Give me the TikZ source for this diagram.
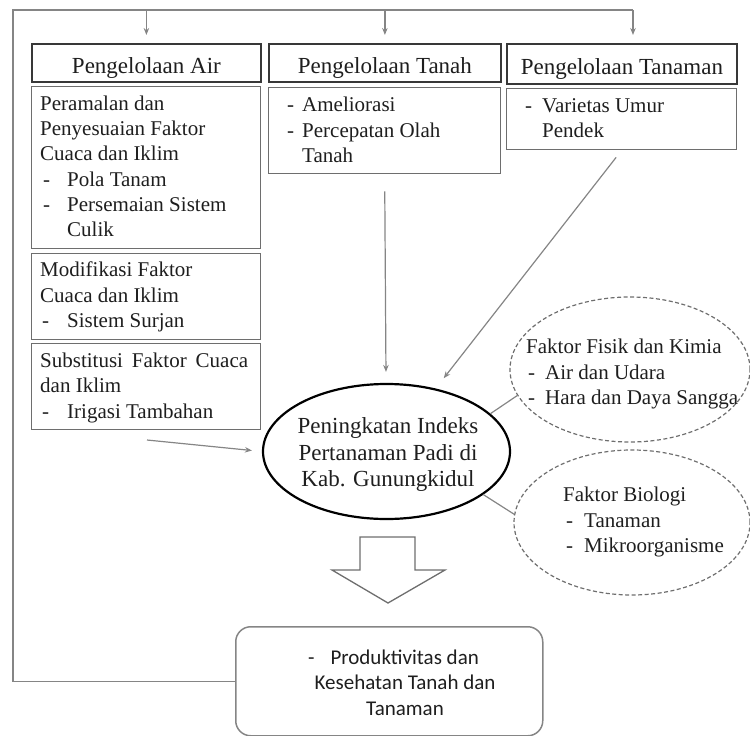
\documentclass[tikz,border=0pt]{standalone}
\usepackage{fontspec}
\setmainfont{Liberation Serif}
\newfontfamily\calfont{Carlito}
\usetikzlibrary{arrows.meta,shapes.geometric}
\definecolor{txtc}{HTML}{1E1E1E}
\definecolor{hdrc}{HTML}{383838}
\definecolor{boxc}{HTML}{6E6E6E}
\definecolor{linec}{HTML}{858585}
\newcommand{\fsA}{\rule{0pt}{16pt}}
\newcommand{\fsB}{\rule{0pt}{17pt}}
\newcommand{\dashitem}[2]{\makebox[#1][l]{-}#2}
\tikzset{
  hdr/.style={draw=hdrc, line width=1.8pt, rectangle, inner sep=0pt, anchor=north west,
    font=\fontsize{23}{26}\selectfont, text=txtc, text height=21pt, text depth=0pt},
  subbox/.style={draw=boxc, line width=1.3pt, rectangle, inner sep=0pt, anchor=north west},
  bodytxt/.style={font=\fontsize{21}{25.3}\selectfont, text=txtc, align=left, inner sep=0pt, anchor=north west},
  elltxt/.style={font=\fontsize{21}{25.5}\selectfont, text=txtc, align=left, inner sep=0pt, anchor=north west},
  maintxt/.style={font=\fontsize{23}{26.7}\selectfont, text=txtc, align=center, inner sep=0pt, anchor=north},
  bottxt/.style={font=\calfont\fontsize{21}{25.5}\selectfont, text=txtc, align=center, inner sep=0pt, anchor=north},
  frame/.style={draw=linec, line width=1.5pt},
  arr/.style={draw=linec, line width=1.2pt, -{Stealth[length=7pt,width=5.5pt]}},
  conn/.style={draw=linec, line width=1.2pt},
  dell/.style={draw=boxc, line width=1.2pt, dash pattern=on 4pt off 2.5pt, ellipse, inner sep=0pt},
  mainell/.style={draw=black, line width=2.2pt, ellipse, inner sep=0pt},
  blk/.style={draw=boxc, line width=1.3pt, fill=white},
  botbox/.style={draw=linec, line width=1.5pt, rectangle, rounded corners=15pt, inner sep=0pt, anchor=north west}
}
\begin{document}
\begin{tikzpicture}[x=1pt,y=-1pt]
\useasboundingbox (0,0) rectangle (750,736);

% header boxes
\node[hdr, minimum width=229pt, minimum height=38pt] (hA) at (31,43) {Pengelolaan Air};
\node[hdr, minimum width=232pt, minimum height=38pt] (hB) at (268,43) {Pengelolaan Tanah};
\node[hdr, minimum width=230pt, minimum height=40pt] (hC) at (506,43) {Pengelolaan Tanaman};

% sub boxes
\node[subbox, minimum width=229pt, minimum height=162pt] (sA1) at (31,86) {};
\node[subbox, minimum width=229pt, minimum height=86pt] (sA2) at (31,253) {};
\node[subbox, minimum width=229pt, minimum height=86pt] (sA3) at (31,343) {};
\node[subbox, minimum width=232pt, minimum height=86pt] (sB) at (268,87) {};
\node[subbox, minimum width=230pt, minimum height=61pt] (sC) at (506,88) {};

% sub box texts
\node[bodytxt] (tA1) at (40,94) {\fsA Peramalan dan\\Penyesuaian Faktor\\Cuaca dan Iklim\\
  \hspace*{3pt}\dashitem{24pt}{Pola Tanam}\\\hspace*{3pt}\dashitem{24pt}{Persemaian Sistem}\\\hspace*{27pt}Culik};
\node[bodytxt] (tA2) at (40,260.7) {\fsA Modifikasi Faktor\\Cuaca dan Iklim\\\hspace*{2pt}\dashitem{25pt}{Sistem Surjan}};
\node[bodytxt] (tA3) at (40,351.3) {\fsA\makebox[208pt][s]{Substitusi Faktor Cuaca}\\dan Iklim\\\hspace*{2pt}\dashitem{25pt}{Irigasi Tambahan}};
\node[bodytxt] (tB) at (287,95.7) {\fsA\dashitem{15pt}{Ameliorasi}\\\dashitem{15pt}{Percepatan Olah}\\\hspace*{15pt}Tanah};
\node[bodytxt] (tC) at (525,96.3) {\fsA\dashitem{17pt}{Varietas Umur}\\\hspace*{17pt}Pendek};

% central ellipse
\node[mainell, minimum width=247pt, minimum height=135pt] (main) at (386.5,451.5) {};
\node[maintxt] (mainT) at (388,416.3) {\fsB Peningkatan Indeks\\Pertanaman Padi di\\Kab. Gunungkidul};

% dashed ellipses
\node[dell, minimum width=240pt, minimum height=145pt] (fis) at (630,369.5) {};
\node[elltxt] (fisT) at (526,337.3) {\fsA Faktor Fisik dan Kimia\\\hspace*{2pt}\dashitem{17pt}{Air dan Udara}\\\hspace*{2pt}\dashitem{17pt}{Hara dan Daya Sangga}};
\node[dell, minimum width=236pt, minimum height=145pt] (bio) at (632,522.5) {};
\node[elltxt] (bioT) at (563,485.7) {\fsA Faktor Biologi\\\hspace*{3pt}\dashitem{18pt}{Tanaman}\\\hspace*{3pt}\dashitem{18pt}{Mikroorganisme}};

% bottom box
\node[botbox, minimum width=307pt, minimum height=109pt] (bot) at (235,626) {};
\node[bottxt] (botT) at (405,647) {\fsB -\hspace{16pt}Produktivitas dan\hspace*{23pt}\\Kesehatan Tanah dan\\Tanaman};

% block arrow
\draw[blk] (360,537) -- (415,537) -- (415,570) -- (445,570) -- (388,603) -- (332,570) -- (360,570) -- cycle;

% outer frame and top arrows
\coordinate (tl) at (13,10);
\coordinate (tr) at (633,10);
\draw[frame] (bot.west) -| (tl) -- (tr);
\draw[arr] (tl -| hA.north) -- ([yshift=8pt]hA.north);
\draw[arr] (tl -| hB.north) -- ([yshift=8pt]hB.north);
\draw[arr] (tr) -- ([yshift=8pt]hC.north -| tr);

% arrows into the central ellipse
\draw[arr, shorten <=17pt, shorten >=11pt] (sB.south) -- (main);
\draw[arr, shorten <=9pt, shorten >=13pt] (sC.south) -- (main);
\coordinate (aw) at (147,440);
\draw[arr, shorten >=10pt] (aw) -- (main.west);

% connectors to factor ellipses
\draw[conn] (main.20) -- (fis.193);
\draw[conn] (main.-24) -- (bio.176);
\end{tikzpicture}
\end{document}
